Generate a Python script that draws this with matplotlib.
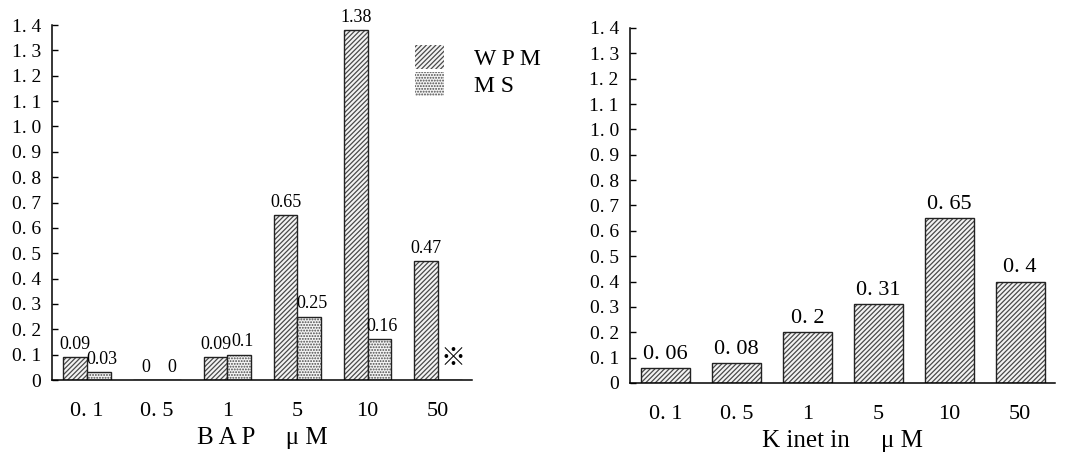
import numpy as np
import matplotlib
matplotlib.use('Agg')
import matplotlib.pyplot as plt
from matplotlib.patches import Patch

# data
conc_labels = ['0. 1', '0. 5', '1', '5', '10', '50']
bap_wpm = [0.09, 0.0, 0.09, 0.65, 1.38, 0.47]
bap_ms = [0.03, 0.0, 0.10, 0.25, 0.16, np.nan]   # 50 uM MS: no data (marked)
kinetin_wpm = [0.06, 0.08, 0.20, 0.31, 0.65, 0.40]
y_ticks = [0, 0.1, 0.2, 0.3, 0.4, 0.5, 0.6, 0.7, 0.8, 0.9, 1.0, 1.1, 1.2, 1.3, 1.4]

SERIF = ['Liberation Serif', 'DejaVu Serif']
HATCH_GRAY = '#4a4a4a'
WPM_HATCH = '///////'
MS_HATCH = '......'
plt.rcParams['hatch.linewidth'] = 0.9


def ytick_text(v):
    if v == 0:
        return '0'
    return ('%.1f' % v).replace('.', '. ')


def hatched_bars(ax, x, h, width, hatch):
    # hatch in gray, outline in black
    ax.bar(x, h, width, color='#f4f4f4', edgecolor=HATCH_GRAY, hatch=hatch, linewidth=0)
    ax.bar(x, h, width, fill=False, edgecolor='#222222', linewidth=1.0)


def style_axes(ax, xlabel):
    ax.set_ylim(0, 1.4)
    ax.set_xlim(-0.5, 5.49)
    ax.set_yticks(y_ticks)
    ax.set_yticklabels([ytick_text(v) for v in y_ticks], family=SERIF, fontsize=14)
    ax.set_xticks(range(len(conc_labels)))
    ax.set_xticklabels(conc_labels, family=SERIF, fontsize=16)
    ax.tick_params(axis='y', direction='in', length=4, width=1, pad=8)
    ax.tick_params(axis='x', length=0, pad=16)
    for s in ('top', 'right'):
        ax.spines[s].set_visible(False)
    ax.spines['left'].set_linewidth(1.1)
    ax.spines['bottom'].set_linewidth(1.1)
    ax.set_xlabel(xlabel, family=SERIF, fontsize=18, labelpad=4)


fig = plt.figure(figsize=(10.73, 4.58), dpi=100)
ax1 = fig.add_axes([0.0485, 0.1703, 0.3915, 0.7751])
ax2 = fig.add_axes([0.5871, 0.1638, 0.3961, 0.7751])

# ---- left: BAP ----
x = np.arange(len(conc_labels))
w = 0.34
hatched_bars(ax1, x - w / 2, bap_wpm, w, WPM_HATCH)
ms_vals = np.nan_to_num(bap_ms)
hatched_bars(ax1, x + w / 2, ms_vals, w, MS_HATCH)

for xi, v in zip(x - w / 2, bap_wpm):
    ax1.annotate('%g' % v, (xi, v), xytext=(0, 3), textcoords='offset points',
                 ha='center', va='bottom', family=SERIF, fontsize=13, clip_on=False)
for xi, v in zip(x + w / 2, bap_ms):
    if np.isnan(v):
        ax1.text(xi + 0.05, 0.085, '\u203b', ha='center', va='center',
                 family=['Noto Sans CJK JP', 'DejaVu Sans'], fontsize=18)
        continue
    ax1.annotate('%g' % v, (xi, v), xytext=(2, 3), textcoords='offset points',
                 ha='center', va='bottom', family=SERIF, fontsize=13, clip_on=False)

style_axes(ax1, 'B A P     \u03bc M')

handles = [Patch(facecolor='#f4f4f4', edgecolor=HATCH_GRAY, hatch=WPM_HATCH, linewidth=0),
           Patch(facecolor='#f4f4f4', edgecolor=HATCH_GRAY, hatch=MS_HATCH, linewidth=0)]
ax1.legend(handles, ['W P M', 'M S'], loc='upper left', bbox_to_anchor=(0.865, 0.945),
           frameon=False, borderpad=0, borderaxespad=0, handlelength=1.2,
           handleheight=1.2, handletextpad=1.3, labelspacing=0.1,
           prop={'family': SERIF, 'size': 17})

# ---- right: Kinetin ----
w2 = 0.69
hatched_bars(ax2, x, kinetin_wpm, w2, WPM_HATCH)
for xi, v in zip(x, kinetin_wpm):
    ax2.annotate(('%g' % v).replace('.', '. '), (xi, v), xytext=(0, 3),
                 textcoords='offset points', ha='center', va='bottom',
                 family=SERIF, fontsize=16)

style_axes(ax2, 'K inet in     \u03bc M')

fig.savefig('out.png', dpi=100)
